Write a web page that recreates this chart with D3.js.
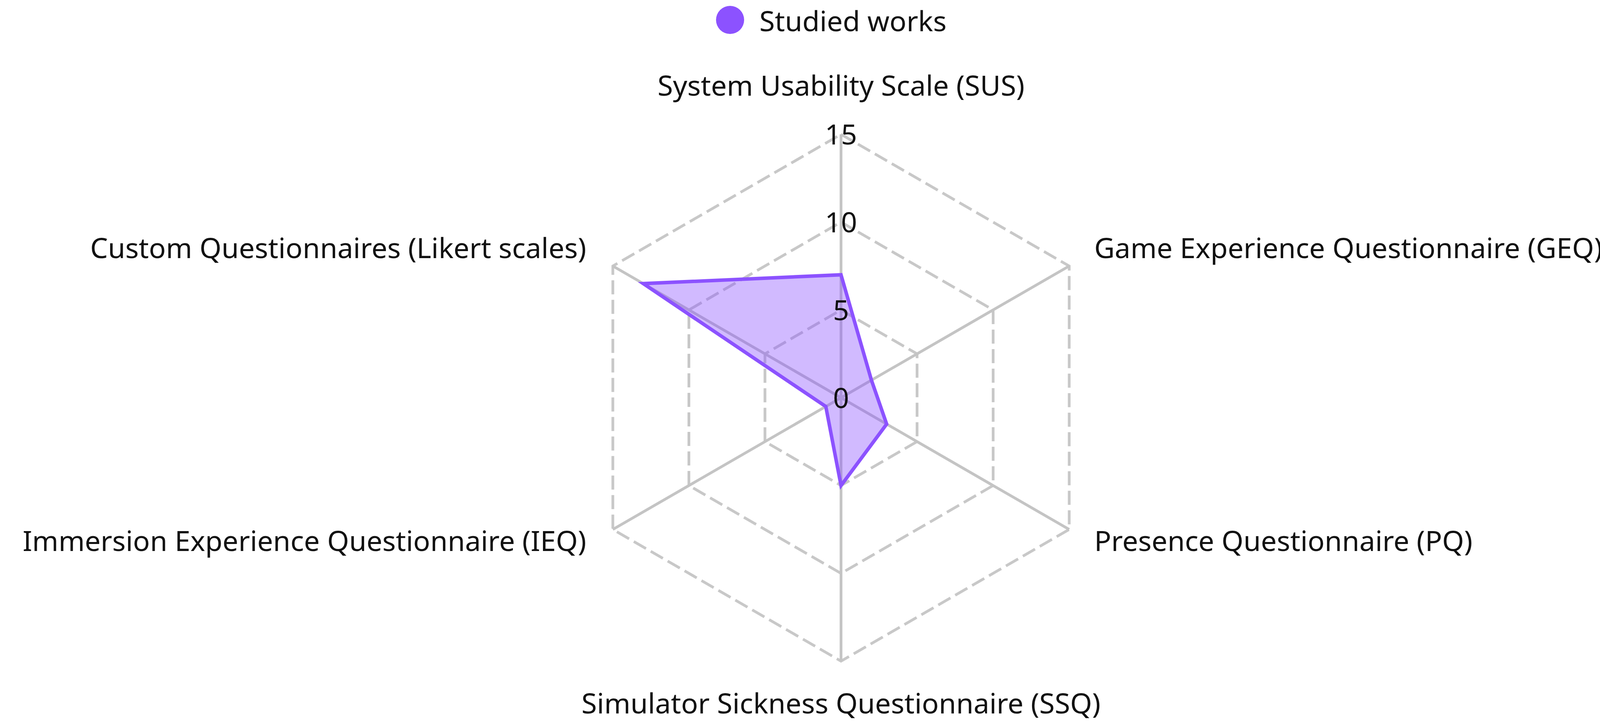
<!DOCTYPE html>
<html>
<head>
<meta charset="utf-8">
<script src="https://cdn.jsdelivr.net/npm/d3@7"></script>
<style>
  html, body { margin: 0; padding: 0; background: #fff; }
  svg text { font-family: "Noto Sans", sans-serif; fill: #111; }
</style>
</head>
<body>
<div id="radar_div"></div>
<script>
  // data
  var axes = [
    "System Usability Scale (SUS)",
    "Game Experience Questionnaire (GEQ)",
    "Presence Questionnaire (PQ)",
    "Simulator Sickness Questionnaire (SSQ)",
    "Immersion Experience Questionnaire (IEQ)",
    "Custom Questionnaires (Likert scales)"
  ];
  var values = [7, 2, 3, 5, 1, 13];
  var ticks = [0, 5, 10, 15];
  var seriesName = "Studied works";

  var width = 4154, height = 1854;
  var cx = 2153, cy = 1018.5, radius = 674.5;
  var color = "#8c52ff";
  var fontSize = 72;

  var svg = d3.select("#radar_div")
    .append("svg")
    .attr("width", width)
    .attr("height", height);

  var r = d3.scaleLinear().domain([0, 15]).range([0, radius]);
  var angle = d3.scaleLinear().domain([0, axes.length]).range([-Math.PI / 2, 1.5 * Math.PI]);

  function pt(i, v) {
    var a = angle(i);
    return [cx + r(v) * Math.cos(a), cy + r(v) * Math.sin(a)];
  }

  var grid = svg.append("g");

  // split rings (dashed hexagons)
  grid.selectAll(".ring")
    .data(ticks.slice(1))
    .enter()
    .append("path")
    .attr("class", "ring")
    .attr("d", function (t) {
      return d3.line()(axes.map(function (a, i) { return pt(i, t); })) + "Z";
    })
    .attr("fill", "none")
    .attr("stroke", "#c8c8c8")
    .attr("stroke-width", 7)
    .attr("stroke-dasharray", "36,14");

  // axis spokes
  grid.selectAll(".spoke")
    .data(axes)
    .enter()
    .append("line")
    .attr("class", "spoke")
    .attr("x1", cx).attr("y1", cy)
    .attr("x2", function (d, i) { return pt(i, 15)[0]; })
    .attr("y2", function (d, i) { return pt(i, 15)[1]; })
    .attr("stroke", "#c4c4c4")
    .attr("stroke-width", 7);

  // data polygon
  svg.append("path")
    .datum(values)
    .attr("d", function (d) {
      return d3.line()(d.map(function (v, i) { return pt(i, v); })) + "Z";
    })
    .attr("fill", color)
    .attr("fill-opacity", 0.4)
    .attr("stroke", color)
    .attr("stroke-width", 9)
    .attr("stroke-linejoin", "miter");

  // tick labels along the first axis
  svg.selectAll(".tick")
    .data(ticks)
    .enter()
    .append("text")
    .attr("class", "tick")
    .attr("x", function (t) { return pt(0, t)[0]; })
    .attr("y", function (t) { return pt(0, t)[1] + 26; })
    .attr("text-anchor", "middle")
    .style("font-size", fontSize + "px")
    .text(function (t) { return t; });

  // axis names
  svg.selectAll(".name")
    .data(axes)
    .enter()
    .append("text")
    .attr("class", "name")
    .attr("x", function (d, i) {
      var p = pt(i, 15), c = Math.cos(angle(i));
      return c > 0.05 ? p[0] + 64 : c < -0.05 ? p[0] - 68 : p[0];
    })
    .attr("y", function (d, i) {
      var p = pt(i, 15), s = Math.sin(angle(i));
      if (s < -0.95) return p[1] - 99;
      if (s > 0.95) return p[1] + 134;
      return s < 0 ? p[1] - 20 : p[1] + 55;
    })
    .attr("text-anchor", function (d, i) {
      var c = Math.cos(angle(i));
      return c > 0.05 ? "start" : c < -0.05 ? "end" : "middle";
    })
    .style("font-size", fontSize + "px")
    .text(function (d) { return d; });

  // legend
  var legend = svg.append("g");
  legend.append("circle")
    .attr("cx", 1869).attr("cy", 51).attr("r", 36)
    .attr("fill", color);
  legend.append("text")
    .attr("x", 1944).attr("y", 80)
    .style("font-size", fontSize + "px")
    .text(seriesName);
</script>
</body>
</html>
